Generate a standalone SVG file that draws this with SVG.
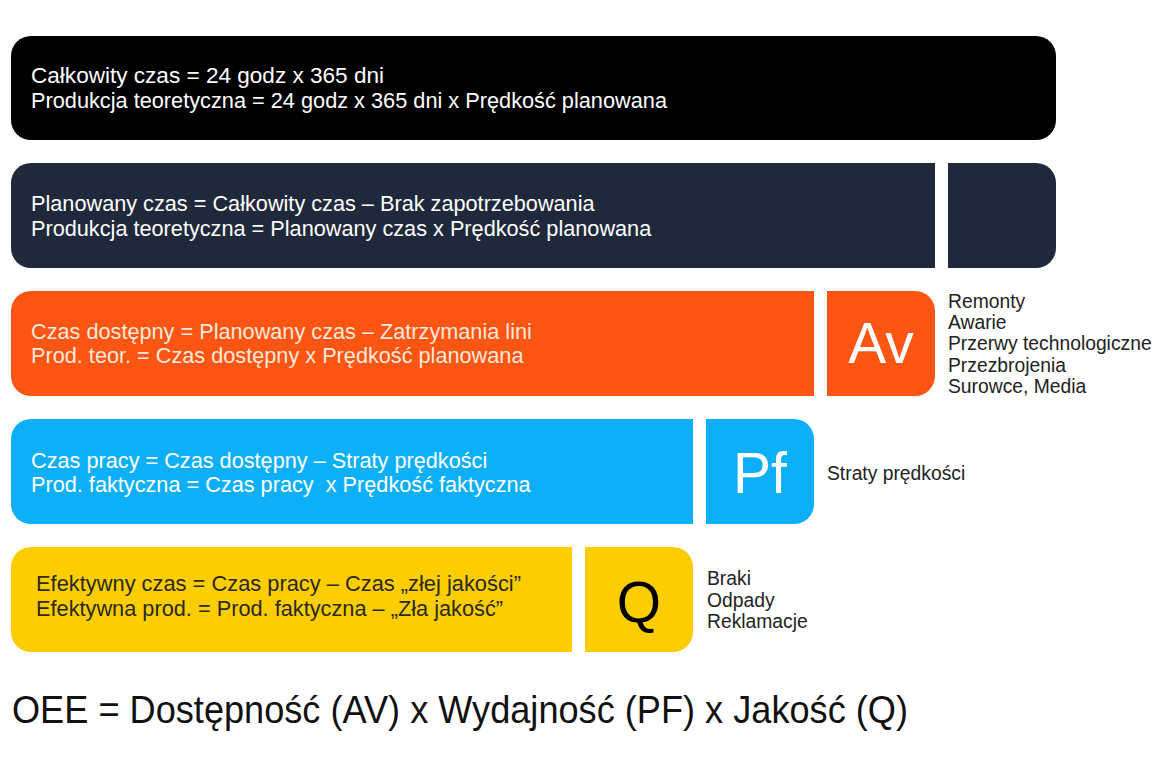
<svg xmlns="http://www.w3.org/2000/svg" width="1160" height="774" viewBox="0 0 1160 774">
<style>
.t{font-family:"Liberation Sans",Arial,sans-serif;font-size:21.7px}
.w{fill:#ffffff}
.c{fill:#fbe8da}
.k{fill:#2b2a1c}
.big{font-family:"Liberation Sans",Arial,sans-serif;font-size:57px;text-anchor:middle}
.lab{font-family:"Liberation Sans",Arial,sans-serif;font-size:19.3px;fill:#222222}
.oee{font-family:"Liberation Sans",Arial,sans-serif;font-size:39px;fill:#111111}
</style>
<rect width="1160" height="774" fill="#ffffff"/>
<g id="node-total">
<rect x="11" y="36" width="1045" height="104" rx="20" fill="#000000"/>
<text class="t w" x="31" y="83" textLength="353" lengthAdjust="spacingAndGlyphs">Całkowity czas = 24 godz x 365 dni</text>
<text class="t w" x="31" y="108" textLength="636" lengthAdjust="spacingAndGlyphs">Produkcja teoretyczna = 24 godz x 365 dni x Prędkość planowana</text>
</g>
<g id="node-planned">
<path d="M31,163 H935 V268 H31 A20,20 0 0 1 11,248 V183 A20,20 0 0 1 31,163 Z" fill="#1f293b"/>
<path d="M948,163 H1036 A20,20 0 0 1 1056,183 V248 A20,20 0 0 1 1036,268 H948 Z" fill="#1f293b"/>
<text class="t w" x="31" y="211">Planowany czas = Całkowity czas – Brak zapotrzebowania</text>
<text class="t w" x="31" y="236">Produkcja teoretyczna = Planowany czas x Prędkość planowana</text>
</g>
<g id="node-available">
<path d="M31,291 H814 V396 H31 A20,20 0 0 1 11,376 V311 A20,20 0 0 1 31,291 Z" fill="#fd5513"/>
<path d="M827,291 H915 A20,20 0 0 1 935,311 V376 A20,20 0 0 1 915,396 H827 Z" fill="#fd5513"/>
<text class="t c" x="31" y="339">Czas dostępny = Planowany czas – Zatrzymania lini</text>
<text class="t c" x="31" y="363">Prod. teor. = Czas dostępny x Prędkość planowana</text>
<text class="big w" x="881" y="363">Av</text>
<text class="lab" x="948" y="308">Remonty</text>
<text class="lab" x="948" y="329">Awarie</text>
<text class="lab" x="948" y="350">Przerwy technologiczne</text>
<text class="lab" x="948" y="372">Przezbrojenia</text>
<text class="lab" x="948" y="393">Surowce, Media</text>
</g>
<g id="node-work">
<path d="M31,419 H693 V524 H31 A20,20 0 0 1 11,504 V439 A20,20 0 0 1 31,419 Z" fill="#0db0f8"/>
<path d="M706,419 H794 A20,20 0 0 1 814,439 V504 A20,20 0 0 1 794,524 H706 Z" fill="#0db0f8"/>
<text class="t w" x="31" y="468">Czas pracy = Czas dostępny – Straty prędkości</text>
<text class="t w" x="31" y="492" xml:space="preserve">Prod. faktyczna = Czas pracy  x Prędkość faktyczna</text>
<text class="big w" x="760" y="493">Pf</text>
<text class="lab" x="827" y="480">Straty prędkości</text>
</g>
<g id="node-effective">
<path d="M31,547 H572 V652 H31 A20,20 0 0 1 11,632 V567 A20,20 0 0 1 31,547 Z" fill="#fccd00"/>
<path d="M585,547 H673 A20,20 0 0 1 693,567 V632 A20,20 0 0 1 673,652 H585 Z" fill="#fccd00"/>
<text class="t k" x="36" y="591" textLength="485" lengthAdjust="spacingAndGlyphs">Efektywny czas = Czas pracy – Czas „złej jakości”</text>
<text class="t k" x="36" y="616" textLength="467" lengthAdjust="spacingAndGlyphs">Efektywna prod. = Prod. faktyczna – „Zła jakość”</text>
<text class="big" x="639" y="622" fill="#000000">Q</text>
<text class="lab" x="707" y="585">Braki</text>
<text class="lab" x="707" y="607">Odpady</text>
<text class="lab" x="707" y="628">Reklamacje</text>
</g>
<g id="formula">
<text class="oee" x="12" y="723" textLength="896" lengthAdjust="spacingAndGlyphs">OEE = Dostępność (AV) x Wydajność (PF) x Jakość (Q)</text>
</g>
<g id="connectors"/>
</svg>
